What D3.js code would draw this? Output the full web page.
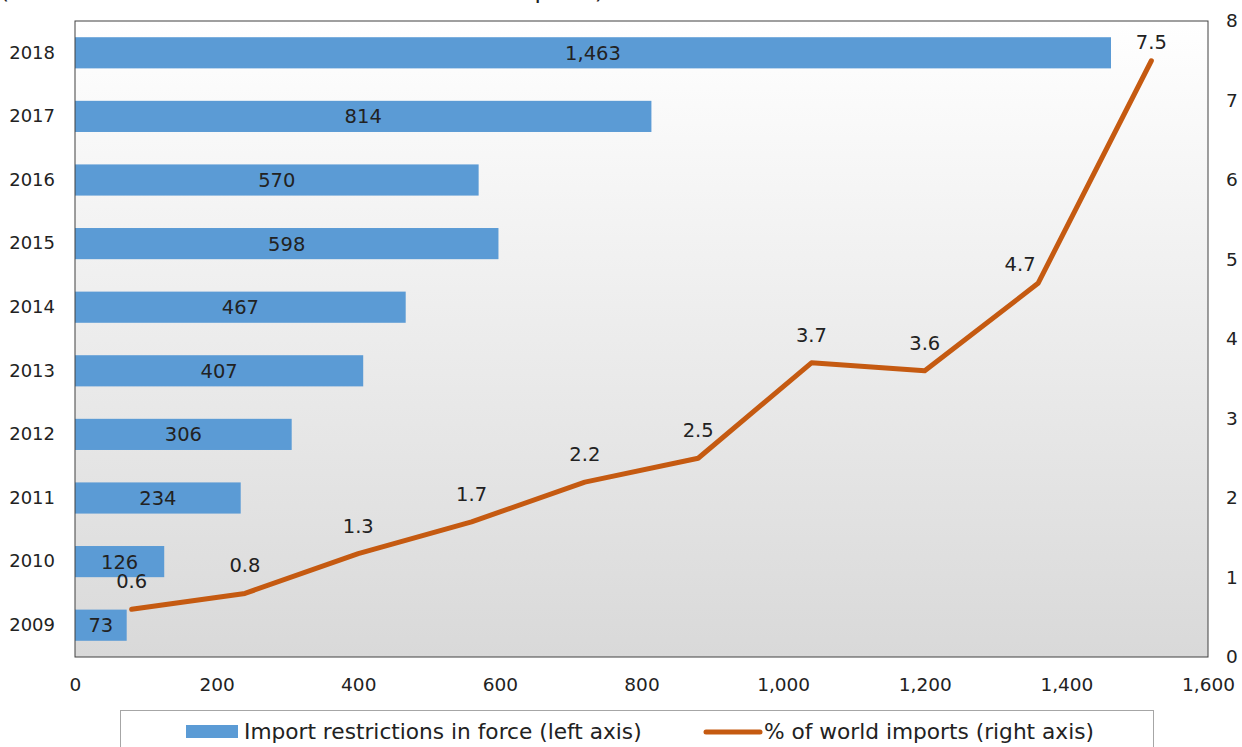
<!DOCTYPE html>
<html>
<head>
<meta charset="utf-8">
<script src="https://cdn.jsdelivr.net/npm/d3@7"></script>
<style>
  body { margin: 0; background: #fff; }
  svg { display: block; font-family: "DejaVu Sans", Verdana, sans-serif; }
</style>
</head>
<body>
<div id="chart"></div>
<script>
// chart values
var years = ["2009", "2010", "2011", "2012", "2013", "2014", "2015", "2016", "2017", "2018"];
var restrictions = [73, 126, 234, 306, 407, 467, 598, 570, 814, 1463];
var shareImports = [0.6, 0.8, 1.3, 1.7, 2.2, 2.5, 3.7, 3.6, 4.7, 7.5];
var xTicks = [0, 200, 400, 600, 800, 1000, 1200, 1400, 1600];
var rightTicks = [0, 1, 2, 3, 4, 5, 6, 7, 8];
var seriesNames = ["Import restrictions in force (left axis)", "% of world imports (right axis)"];

var width = 1242, height = 747,
    margin = { top: 21, left: 75, right: 34, bottom: 90 },
    chartWidth = width - margin.left - margin.right,
    chartHeight = height - margin.top - margin.bottom,
    barColor = "#5b9bd5",
    lineColor = "#c55a11",
    textColor = "#222";

var svg = d3.select("#chart").append("svg")
    .attr("width", width)
    .attr("height", height);

// subtitle line, mostly cut off at the top of the picture
svg.append("text")
    .attr("x", 0)
    .attr("y", -1)
    .attr("textLength", 604)
    .attr("lengthAdjust", "spacingAndGlyphs")
    .style("font-size", "20px")
    .style("fill", textColor)
    .text("(Number of restrictions and share of world imports)");

var grad = svg.append("defs").append("linearGradient")
    .attr("id", "bg")
    .attr("x1", 0).attr("y1", 0).attr("x2", 0).attr("y2", 1);
grad.append("stop").attr("offset", "0%").attr("stop-color", "#ffffff");
grad.append("stop").attr("offset", "100%").attr("stop-color", "#d9d9d9");

var g = svg.append("g").attr("transform", "translate(" + margin.left + "," + margin.top + ")");

g.append("rect")
    .attr("width", chartWidth)
    .attr("height", chartHeight)
    .style("fill", "url(#bg)");

var x = d3.scaleLinear().domain([0, 1600]).range([0, chartWidth]);
var y = d3.scaleBand().domain(years.slice().reverse()).range([0, chartHeight]).paddingInner(0.51).paddingOuter(0.255);
// hidden category axis for the line
var xCat = d3.scaleBand().domain(years).range([0, chartWidth]);
var yRight = d3.scaleLinear().domain([0, 8]).range([chartHeight, 0]);

// bars
var bars = years.map(function(yr, i) { return { year: yr, value: restrictions[i] }; });
g.selectAll("rect.bar").data(bars).enter().append("rect")
    .attr("class", "bar")
    .attr("x", 0)
    .attr("y", function(d) { return y(d.year); })
    .attr("width", function(d) { return x(d.value); })
    .attr("height", y.bandwidth())
    .style("fill", barColor);

g.selectAll("text.barLabel").data(bars).enter().append("text")
    .attr("class", "barLabel")
    .attr("x", function(d) { return x(d.value) / 2; })
    .attr("y", function(d) { return y(d.year) + y.bandwidth() / 2; })
    .attr("dy", "0.36em")
    .attr("text-anchor", "middle")
    .style("font-size", "19.5px")
    .style("fill", textColor)
    .text(function(d) { return d3.format(",")(d.value); });

// line
var pts = years.map(function(yr, i) { return { year: yr, value: shareImports[i] }; });
var line = d3.line()
    .x(function(d) { return xCat(d.year) + xCat.bandwidth() / 2; })
    .y(function(d) { return yRight(d.value); });

g.append("path")
    .datum(pts)
    .attr("d", line)
    .style("fill", "none")
    .style("stroke", lineColor)
    .style("stroke-width", 5)
    .style("stroke-linejoin", "round")
    .style("stroke-linecap", "round");

function steepAfter(i) {
    var nx = pts[i + 1];
    return !nx || yRight(pts[i].value) - yRight(nx.value) > xCat.bandwidth();
}

g.selectAll("text.ptLabel").data(pts).enter().append("text")
    .attr("class", "ptLabel")
    .attr("x", function(d, i) {
        var px = xCat(d.year) + xCat.bandwidth() / 2;
        // steep climb ahead: move the label left off the line
        if (pts[i + 1] && steepAfter(i)) px -= 18;
        return px;
    })
    .attr("y", function(d, i) { return yRight(d.value) - (steepAfter(i) ? 12 : 21); })
    .attr("text-anchor", "middle")
    .style("font-size", "19.5px")
    .style("fill", textColor)
    .text(function(d) { return d.value; });

// frame
g.append("rect")
    .attr("width", chartWidth)
    .attr("height", chartHeight)
    .style("fill", "none")
    .style("stroke", "#404040")
    .style("stroke-width", 1);

// axes
var xAxis = g.append("g")
    .attr("transform", "translate(0," + chartHeight + ")")
    .call(d3.axisBottom(x).tickValues(xTicks).tickSize(0).tickPadding(21).tickFormat(d3.format(",")));
var yAxis = g.append("g")
    .call(d3.axisLeft(y).tickSize(0).tickPadding(20));
var rAxis = g.append("g")
    .attr("transform", "translate(" + chartWidth + ",0)")
    .call(d3.axisRight(yRight).tickValues(rightTicks).tickSize(0).tickPadding(11));

[xAxis, yAxis, rAxis].forEach(function(a) {
    a.select(".domain").remove();
    a.selectAll("text")
        .style("font-family", "'DejaVu Sans', Verdana, sans-serif")
        .style("font-size", "18.5px")
        .style("fill", textColor);
});
yAxis.selectAll("text").style("font-size", "18px");
rAxis.selectAll("text").attr("text-anchor", "middle").attr("x", 24);

// legend
var legend = svg.append("g");
legend.append("rect")
    .attr("x", 120.5).attr("y", 710.5)
    .attr("width", 1033).attr("height", 50)
    .style("fill", "#fff")
    .style("stroke", "#a6a6a6");
legend.append("rect")
    .attr("x", 186).attr("y", 725)
    .attr("width", 52).attr("height", 13)
    .style("fill", barColor);
legend.append("text")
    .attr("x", 244).attr("y", 739)
    .style("font-size", "21.7px").style("fill", textColor)
    .text(seriesNames[0]);
legend.append("line")
    .attr("x1", 706).attr("x2", 760).attr("y1", 732).attr("y2", 732)
    .style("stroke", lineColor).style("stroke-width", 5).style("stroke-linecap", "round");
legend.append("text")
    .attr("x", 764).attr("y", 739)
    .style("font-size", "21.7px").style("fill", textColor)
    .text(seriesNames[1]);
</script>
</body>
</html>
